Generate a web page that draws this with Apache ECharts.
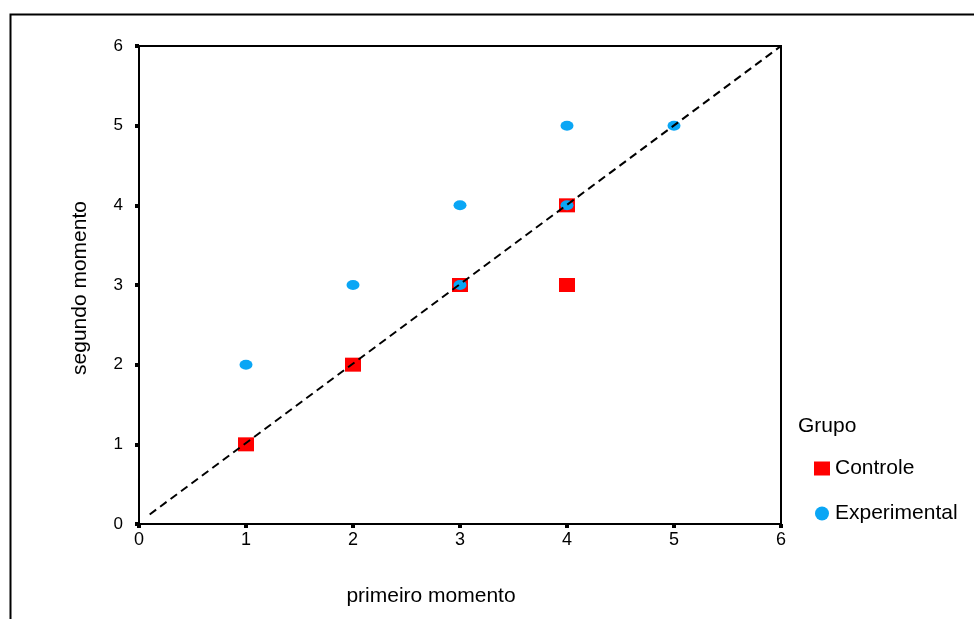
<!DOCTYPE html>
<html><head><meta charset="utf-8">
<script src="https://cdn.jsdelivr.net/npm/echarts@6/dist/echarts.min.js"></script>
<style>html,body{margin:0;padding:0;background:#fff}#c{width:974px;height:619px}</style>
</head><body><div id="c"></div>
<script>
const xTicks = [0,1,2,3,4,5,6];
const yTicks = [0,1,2,3,4,5,6];
const controle = [[1,1],[2,2],[3,3],[4,4],[4,3]];
const experimental = [[1,2],[2,3],[3,4],[3,3],[4,4],[4,5],[5,5]];
const refLine = [[0.1,0.12],[6,6]];
const xName = 'primeiro momento';
const yName = 'segundo momento';
const legendTitle = 'Grupo';

const chart = echarts.init(document.getElementById('c'));
const font = 'Liberation Sans, Arial, sans-serif';
chart.setOption({
  animation:false,
  backgroundColor:'#fff',
  graphic:[
    {type:'rect',shape:{x:10.5,y:14.5,width:1000,height:700},style:{fill:'none',stroke:'#000',lineWidth:2},z:-1},
    {type:'text',left:798,top:416,style:{text:legendTitle,fontFamily:font,fontSize:21,fill:'#000'}},
    {type:'text',x:431,y:596,style:{text:xName,fontFamily:font,fontSize:21,fill:'#000',textAlign:'center',textVerticalAlign:'middle'}},
    {type:'text',x:80,y:288,rotation:Math.PI/2,style:{text:yName,fontFamily:font,fontSize:21,fill:'#000',textAlign:'center',textVerticalAlign:'middle'}}
  ],
  grid:{left:139,top:46,width:642,height:478,show:true,borderColor:'#000',borderWidth:2,backgroundColor:'transparent'},
  legend:{orient:'vertical',left:809,top:453,itemGap:24,itemWidth:16,itemHeight:14,
    textStyle:{fontFamily:font,fontSize:21,color:'#000'},
    data:[{name:'Controle',icon:'rect'},{name:'Experimental',icon:'circle'}]},
  xAxis:{type:'value',min:0,max:6,interval:1,splitLine:{show:false},
    axisLine:{lineStyle:{color:'#000',width:2}},
    axisTick:{length:4,lineStyle:{color:'#000',width:4}},
    axisLabel:{margin:7,fontFamily:font,fontSize:18,color:'#000',formatter:v=>xTicks.includes(v)?String(v):''}},
  yAxis:{type:'value',min:0,max:6,interval:1,splitLine:{show:false},
    axisLine:{lineStyle:{color:'#000',width:2}},
    axisTick:{length:4,lineStyle:{color:'#000',width:4}},
    axisLabel:{margin:16,fontFamily:font,fontSize:17,color:'#000',formatter:v=>yTicks.includes(v)?String(v):''}},
  series:[
    {name:'Controle',type:'scatter',data:controle,symbol:'rect',symbolSize:[16,14],itemStyle:{color:'#ff0000',opacity:1},z:2},
    {name:'Experimental',type:'scatter',data:experimental,symbol:'circle',symbolSize:[13,10],itemStyle:{color:'#0aa6f5',opacity:1},z:3},
    {name:'ref',type:'line',data:refLine,showSymbol:false,symbol:'none',lineStyle:{color:'#000',width:2,type:[8,5]},z:4,silent:true}
  ]
});
</script></body></html>
